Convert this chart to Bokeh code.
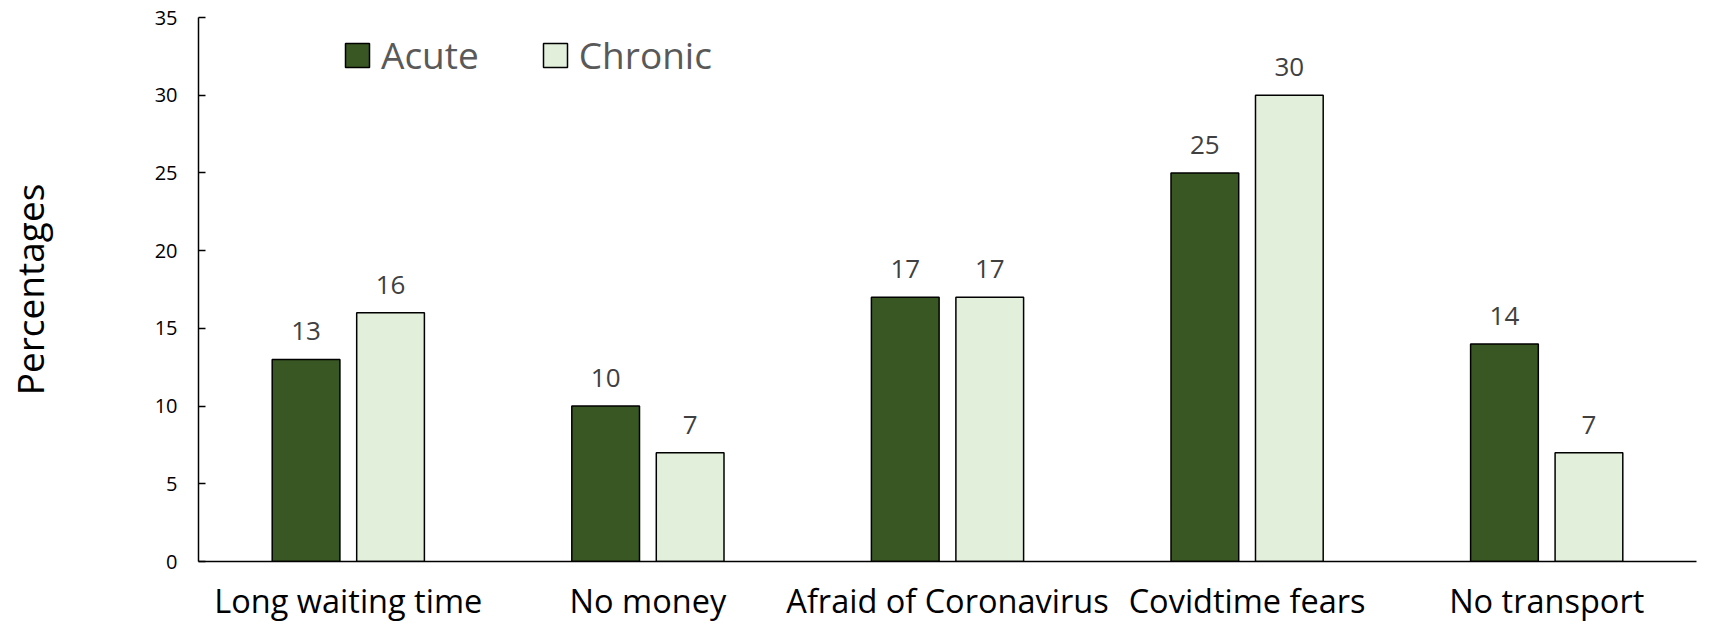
from bokeh.plotting import figure
from bokeh.models import ColumnDataSource, Range1d, FixedTicker, Legend, LegendItem, FactorRange
from bokeh.transform import dodge
from bokeh.core.properties import value
from bokeh.embed import file_html
from bokeh.resources import INLINE

categories = ["Long waiting time", "No money", "Afraid of Coronavirus", "Covidtime fears", "No transport"]
acute = [13, 10, 17, 25, 14]
chronic = [16, 7, 17, 30, 7]
y_ticks = [0, 5, 10, 15, 20, 25, 30, 35]

FONT = "Open Sans"
ACUTE_COLOR = "#385723"
CHRONIC_COLOR = "#E2EFDA"

source = ColumnDataSource(data=dict(
    cat=categories,
    acute=acute,
    chronic=chronic,
    acute_txt=[str(v) for v in acute],
    chronic_txt=[str(v) for v in chronic],
))

p = figure(
    x_range=FactorRange(*categories),
    y_range=Range1d(0, 35),
    width=1704, height=625,
    output_backend="svg", toolbar_location=None,
    min_border_left=192, min_border_right=8,
    min_border_top=17, min_border_bottom=64,
)
p.outline_line_color = None
p.xgrid.grid_line_color = None
p.ygrid.grid_line_color = None

off = 0.141
bw = 0.226
r1 = p.vbar(x=dodge("cat", -off, range=p.x_range), top="acute", width=bw, source=source,
            fill_color=ACUTE_COLOR, line_color="black", line_width=1.5)
r2 = p.vbar(x=dodge("cat", off, range=p.x_range), top="chronic", width=bw, source=source,
            fill_color=CHRONIC_COLOR, line_color="black", line_width=1.5)

for col, d in (("acute", -off), ("chronic", off)):
    p.text(x=dodge("cat", d, range=p.x_range), y=col, text=col + "_txt", source=source,
           text_align="center", text_baseline="alphabetic", y_offset=-28,
           text_font=value(FONT), text_font_size="26px", text_color="#404040")

# y axis
p.yaxis.ticker = FixedTicker(ticks=y_ticks)
p.yaxis.axis_label = "Percentages"
p.yaxis.axis_label_text_font = FONT
p.yaxis.axis_label_text_font_size = "37px"
p.yaxis.axis_label_text_font_style = "normal"
p.yaxis.axis_label_text_color = "black"
p.yaxis.axis_label_standoff = 97
p.yaxis.major_label_text_font = FONT
p.yaxis.major_label_text_font_size = "20px"
p.yaxis.major_label_text_color = "black"
p.yaxis.major_label_standoff = 21
p.yaxis.major_tick_in = 7
p.yaxis.major_tick_out = 0
p.yaxis.minor_tick_line_color = None
p.yaxis.axis_line_color = "black"
p.yaxis.axis_line_width = 1.5
p.yaxis.major_tick_line_color = "black"
p.yaxis.major_tick_line_width = 1.5

# x axis
p.xaxis.major_label_text_font = FONT
p.xaxis.major_label_text_font_size = "32.5px"
p.xaxis.major_label_text_color = "black"
p.xaxis.major_label_standoff = 16
p.xaxis.major_tick_line_color = None
p.xaxis.major_tick_in = 0
p.xaxis.major_tick_out = 0
p.xaxis.axis_line_color = "black"
p.xaxis.axis_line_width = 1.5

legend = Legend(
    items=[LegendItem(label="Acute", renderers=[r1]), LegendItem(label="Chronic", renderers=[r2])],
    location=(144, 481), orientation="horizontal",
    label_text_font=FONT, label_text_font_size="37px", label_text_color="#595959",
    glyph_width=30, glyph_height=30, label_standoff=9, spacing=61,
    padding=0, margin=0, border_line_alpha=0, background_fill_alpha=0,
)
p.add_layout(legend, "center")

open("out.html", "w").write(file_html(p, INLINE))
